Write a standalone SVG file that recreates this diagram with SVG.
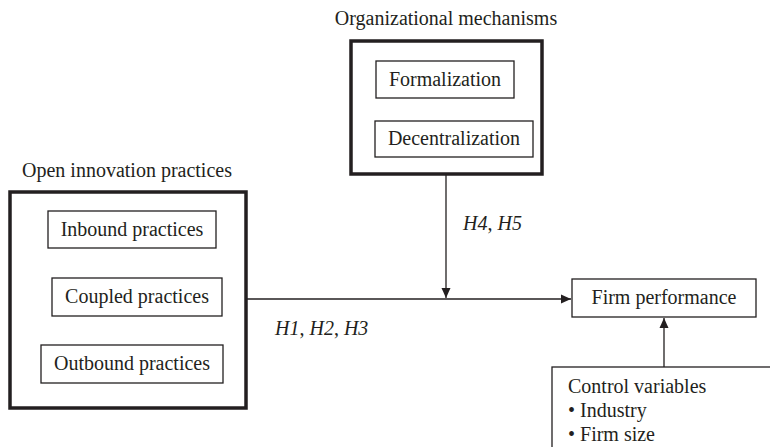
<svg xmlns="http://www.w3.org/2000/svg" width="770" height="447" viewBox="0 0 770 447">
<style>
text{font-family:"Liberation Serif","Times New Roman",serif;font-size:20px;fill:#231f20}
.c{text-anchor:middle}
.i{font-style:italic}
.thick{fill:none;stroke:#231f20;stroke-width:3.5}
.thin{fill:#fff;stroke:#231f20;stroke-width:1.3}
.conn{stroke:#231f20;stroke-width:1.3;fill:none}
</style>
<defs>
<marker id="ah" viewBox="0 0 10 10" refX="10" refY="5" markerWidth="10" markerHeight="10" markerUnits="userSpaceOnUse" orient="auto">
<path d="M0,0.5 L10,5 L0,9.5 Z" fill="#231f20"/>
</marker>
</defs>
<rect width="770" height="447" fill="#fff"/>
<g id="org">
<text class="c" x="446" y="25">Organizational mechanisms</text>
<rect class="thick" x="351" y="41" width="191" height="133"/>
<g id="formalization"><rect class="thin" x="376" y="61" width="138" height="37"/><text class="c" x="445" y="86">Formalization</text></g>
<g id="decentralization"><rect class="thin" x="375" y="121" width="158" height="36"/><text class="c" x="454" y="145">Decentralization</text></g>
</g>
<g id="oi">
<text class="c" x="127" y="177">Open innovation practices</text>
<rect class="thick" x="10" y="192" width="236" height="216"/>
<g id="inbound"><rect class="thin" x="48" y="211" width="168" height="37"/><text class="c" x="132" y="236">Inbound practices</text></g>
<g id="coupled"><rect class="thin" x="52" y="278" width="170" height="38"/><text class="c" x="137" y="303">Coupled practices</text></g>
<g id="outbound"><rect class="thin" x="41" y="345" width="182" height="38"/><text class="c" x="132" y="370">Outbound practices</text></g>
</g>
<g id="firm"><rect class="thin" x="572" y="279" width="184" height="38"/><text class="c" x="664" y="304">Firm performance</text></g>
<g id="control"><rect class="thin" x="552" y="367" width="230" height="90"/>
<text x="568" y="393">Control variables</text>
<text x="568" y="417">• Industry</text>
<text x="568" y="441">• Firm size</text>
</g>
<g id="connectors">
<line class="conn" x1="246" y1="299" x2="571" y2="299" marker-end="url(#ah)"/>
<line class="conn" x1="446" y1="174" x2="446" y2="298" marker-end="url(#ah)"/>
<line class="conn" x1="664" y1="367" x2="664" y2="318" marker-end="url(#ah)"/>
</g>
<text class="i" x="463" y="230">H4<tspan font-style="normal">, </tspan>H5</text>
<text class="i" x="275" y="335">H1<tspan font-style="normal">, </tspan>H2<tspan font-style="normal">, </tspan>H3</text>
</svg>
